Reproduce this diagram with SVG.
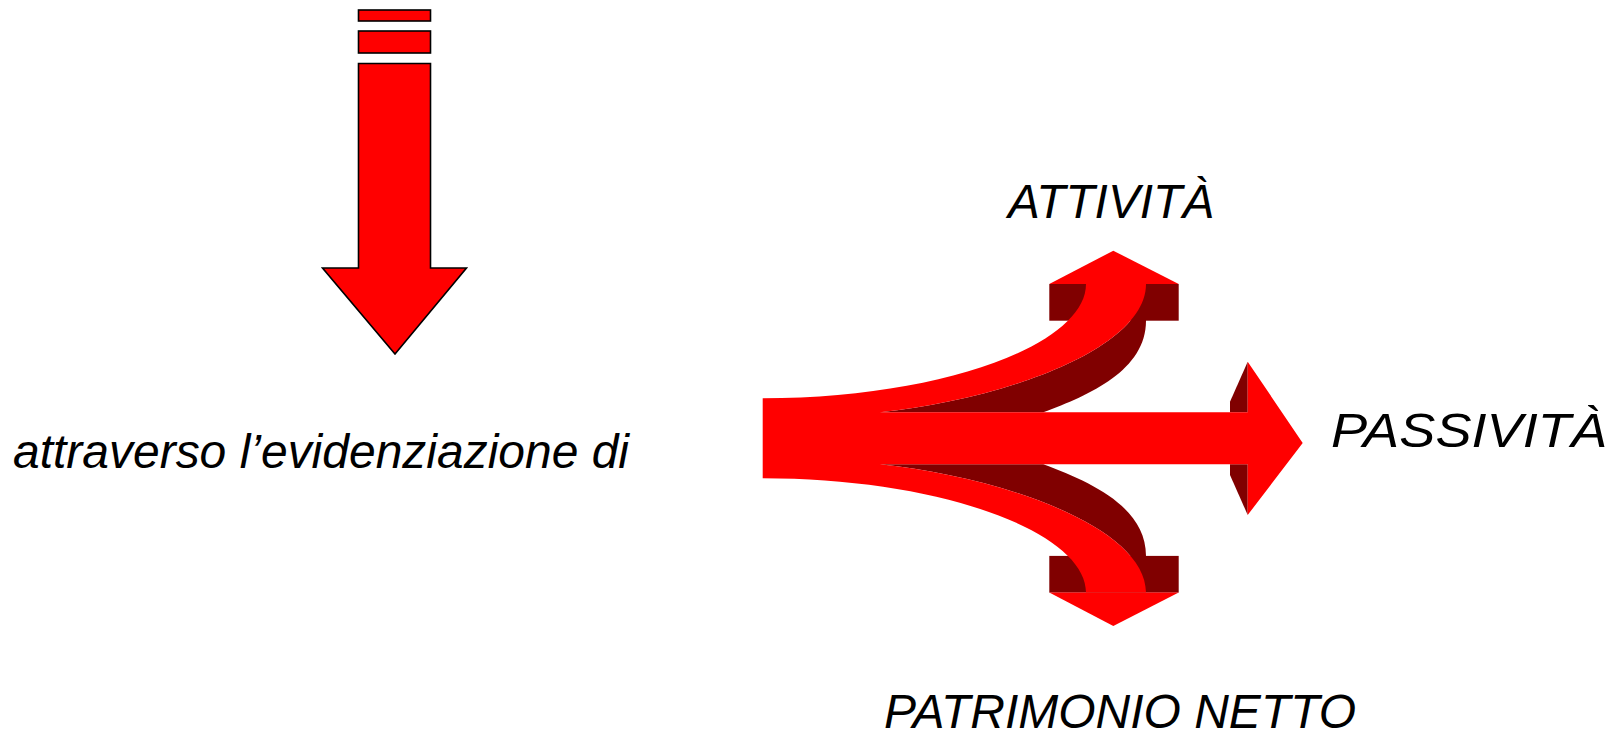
<svg xmlns="http://www.w3.org/2000/svg" width="1616" height="734" viewBox="0 0 1616 734">
  <style>
    .red { fill: #ff0000; }
    .shade { fill: #800000; }
    .outlined { fill: #ff0000; stroke: #000000; stroke-width: 1.6; stroke-linejoin: miter; }
    .label { font-family: "Liberation Sans", Arial, sans-serif; font-style: italic; font-size: 48px; fill: #000000; }
  </style>
  <rect width="1616" height="734" fill="#ffffff"/>

  <!-- downward block arrow with two stripes above -->
  <g id="down-arrow">
    <rect class="outlined" x="358.5" y="10" width="72" height="11"/>
    <rect class="outlined" x="358.5" y="31" width="72" height="22"/>
    <polygon class="outlined" points="358.5,63.5 430.5,63.5 430.5,268 466.5,268 395,354 322.5,268 358.5,268"/>
  </g>

  <g id="caption">
    <text class="label" x="13" y="468" textLength="616" lengthAdjust="spacingAndGlyphs">attraverso l’evidenziazione di</text>
  </g>

  <!-- three-way split arrow -->
  <g id="split-arrow">
    <!-- side faces -->
    <g id="split-shading">
      <rect class="shade" x="1049.3" y="284" width="129.4" height="36.7"/>
      <path class="shade" d="M1146,284 C1146,350 1000,400 880,412.3 H1043.3 C1090,395 1146,370 1146,320.7 Z"/>
      <g transform="matrix(1,0,0,-1,0,876.6)">
        <rect class="shade" x="1049.3" y="284" width="129.4" height="36.7"/>
        <path class="shade" d="M1146,284 C1146,350 1000,400 880,412.3 H1043.3 C1090,395 1146,370 1146,320.7 Z"/>
      </g>
      <polygon class="shade" points="1247.7,361.7 1230,401.7 1230,412.3 1247.7,412.3"/>
      <polygon class="shade" points="1247.7,464.3 1230,464.3 1230,475 1247.7,515"/>
    </g>
    <!-- front faces -->
    <g id="split-front">
      <path class="red" d="M762.7,398.3 C940,398.3 1086,345 1086,284 H1146 C1146,350 1000,400 880,412.3 H1247.7 V361.7 L1302.7,443 L1247.7,515 V464.3 H880 C1000,476.6 1146,526.6 1146,592.6 H1086 C1086,531.6 940,478.3 762.7,478.3 Z"/>
      <polygon class="red" points="1049.3,284 1113.3,250.7 1178.7,284"/>
      <polygon class="red" points="1049.3,592.6 1113.3,625.9 1178.7,592.6"/>
    </g>
  </g>

  <g id="label-attivita">
    <text class="label" x="1008" y="218" textLength="206" lengthAdjust="spacingAndGlyphs">ATTIVITÀ</text>
  </g>
  <g id="label-passivita">
    <text class="label" x="1331" y="447" textLength="276" lengthAdjust="spacingAndGlyphs">PASSIVITÀ</text>
  </g>
  <g id="label-patrimonio">
    <text class="label" x="884" y="728" textLength="472" lengthAdjust="spacingAndGlyphs">PATRIMONIO NETTO</text>
  </g>
</svg>
